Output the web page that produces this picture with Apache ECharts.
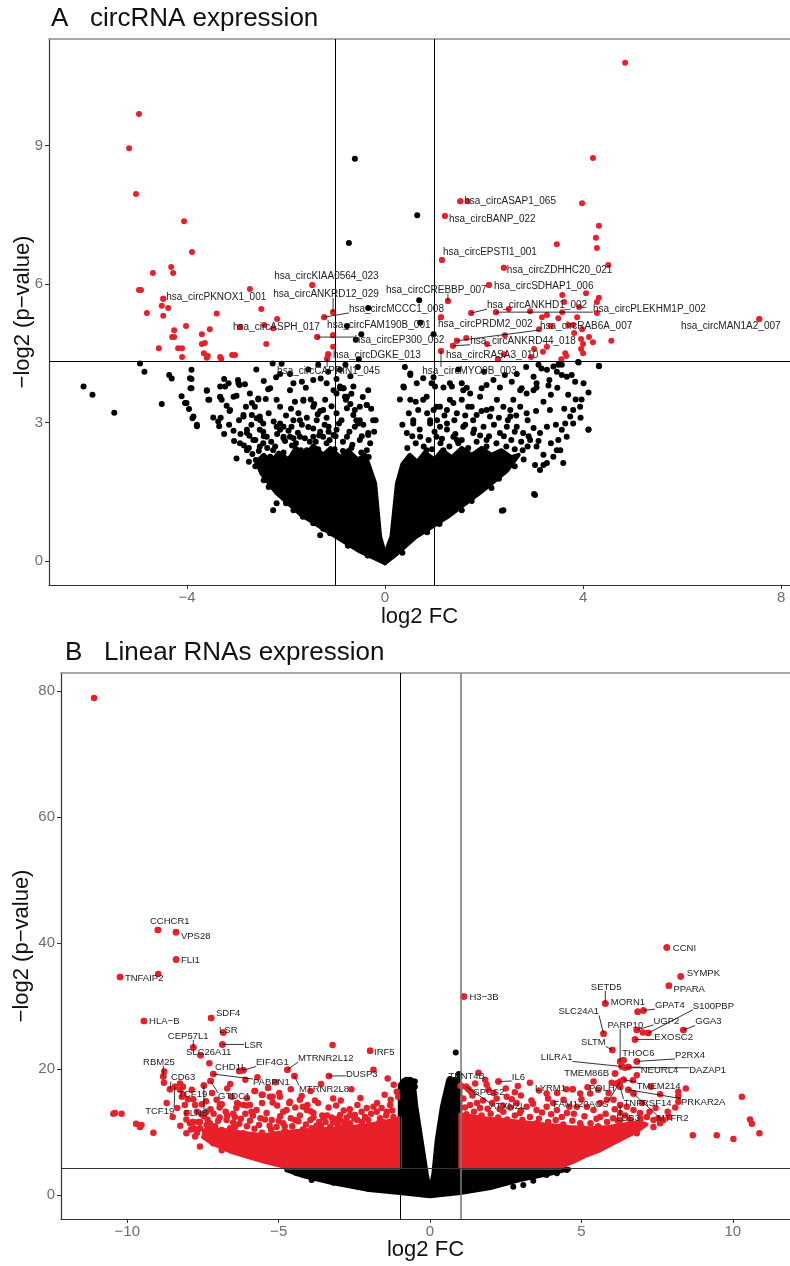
<!DOCTYPE html>
<html><head><meta charset="utf-8">
<script src="https://cdn.jsdelivr.net/npm/echarts/dist/echarts.min.js"></script>
<style>html,body{margin:0;padding:0;background:#fff}#c{width:790px;height:1266px}</style>
</head><body><div id="c"></div>
<script>
// ---------------- tick labels / thresholds ----------------
const xTicksA = [-4, 0, 4, 8];
const yTicksA = [0, 3, 6, 9];
const xTicksB = [-10, -5, 0, 5, 10];
const yTicksB = [0, 20, 40, 60, 80];
const fcCut = [-1, 1];
const pCut = 4.32;

// ---------------- Panel A: circRNA ----------------
const redA = [
[-4.97,9.68],[-5.17,8.94],[-5.03,7.95],[-4.06,7.36],[-3.90,6.69],[-4.32,6.37],[-4.28,6.24],[-4.69,6.24],[-4.97,5.87],[-4.93,5.87],
[-2.73,5.89],[-1.47,5.98],[-4.48,5.68],[-4.51,5.53],[-4.38,5.48],[-4.81,5.37],[-4.48,5.31],[-3.40,5.36],[-2.50,5.46],[-2.18,5.24],
[-1.23,5.28],[-1.05,5.39],[-4.02,5.09],[-4.26,5.00],[-4.30,4.85],[-4.26,4.85],[-3.54,5.02],[-3.70,4.91],[-2.44,5.11],[-2.26,5.04],
[-2.93,5.07],[-3.70,4.70],[-3.64,4.72],[-4.57,4.61],[-4.18,4.61],[-4.10,4.61],[-4.10,4.42],[-3.66,4.50],[-3.58,4.44],[-3.60,4.40],
[-3.33,4.42],[-3.31,4.38],[-3.09,4.46],[-3.03,4.46],[-2.40,4.70],[-1.37,4.85],[-1.05,4.89],[-1.05,4.64],[-1.15,4.48],[-1.17,4.38],
[4.85,10.79],[4.20,8.73],[1.52,7.79],[1.67,7.79],[3.98,7.75],[1.21,7.47],[4.32,7.26],[4.26,7.00],[4.28,6.78],[3.47,6.86],
[1.15,6.52],[2.40,6.35],[4.51,6.41],[2.10,5.98],[3.58,5.76],[4.06,5.80],[4.32,5.70],[4.28,5.61],[1.27,5.63],[3.62,5.61],
[1.74,5.37],[2.24,5.39],[2.50,5.46],[2.93,5.41],[3.58,5.39],[3.92,5.50],[4.28,5.37],[1.13,5.28],[3.17,5.28],[3.27,5.33],
[3.50,5.26],[3.88,5.28],[7.56,5.24],[3.11,5.02],[3.35,5.09],[3.70,5.11],[3.82,4.94],[3.98,5.02],[4.12,4.85],[4.20,4.74],
[4.57,4.77],[3.96,4.81],[4.00,4.70],[3.96,4.59],[4.00,4.50],[3.64,4.50],[3.56,4.37],[3.27,4.64],[3.01,4.59],[2.95,4.42],
[2.40,4.48],[2.42,4.89],[2.06,4.70],[1.64,4.83],[1.45,4.77],[1.37,4.66],[1.13,4.55],[2.28,4.37],[3.66,4.44],[3.19,4.53],[3.80,5.11]
];
const blackA = [
[-0.61,8.71],[-0.73,6.89],[0.65,7.49],[-0.34,5.48],[-0.77,5.09],[-0.48,4.91],[-0.59,4.79],[-0.53,4.37],[0.69,5.65],[0.71,5.16],[0.98,4.91],[3.90,4.31],[4.32,4.22],
[-4.95,4.28],[-4.86,4.10],[-6.09,3.78],[-5.91,3.60],[-5.47,3.21],[-4.51,3.40],[-4.36,4.03],[-4.31,3.95],[-3.91,3.94],[-3.93,3.74],
[-4.11,3.57],[-4.04,3.42],[-3.96,3.29],[-3.89,3.09],[-3.80,2.92],[-3.60,3.69],[-3.55,3.49],[-3.33,3.78],[-3.25,3.94],[-2.97,3.92],
[-2.83,3.83],[-3.16,3.85],[-2.94,3.81],[-3.00,3.58],[-3.33,3.55],[-3.30,3.49],[-3.20,3.36],[-3.14,3.25],[-3.47,3.11],[-3.37,3.02],
[-3.32,3.10],[-3.35,2.92],[-3.06,2.82],[-2.92,2.75],[-2.79,2.84],[-2.74,2.71],[-3.00,2.22],[-2.63,3.34],[-2.56,3.50],[-2.41,3.51],
[-2.36,3.72],[-2.20,3.98],[-2.12,4.05],[-2.09,4.27],[-2.27,4.28],[-1.92,4.05],[-1.68,3.88],[-1.65,3.47],[-1.45,3.92],[-1.43,3.40],
[-1.21,3.49],[-1.31,3.25],[-1.14,2.91],[-1.04,3.70],[-0.91,3.74],[-0.84,3.74],[-0.81,3.56],[-0.79,3.49],[-0.77,3.31],[-0.64,3.16],
[-0.61,2.91],[-0.54,2.98],[-0.51,3.34],[-0.37,3.38],[-0.34,3.70],[-0.19,3.05],[-0.34,2.73],[-0.98,3.94],[-0.91,4.14],[-2.26,1.10],
[-1.92,1.30],[-2.19,1.25],[-1.66,0.96],[-1.31,0.56],[-1.11,0.60],[-0.94,0.60],[-2.86,3.13],[-2.81,3.34],[-2.69,3.16],[-2.59,3.09],
[-2.46,2.80],[-2.39,2.69],[-2.53,2.48],[-2.61,2.19],[-2.93,2.55],[-2.79,2.40],[-2.66,2.62],[-2.19,2.91],[-2.05,2.91],[-1.85,3.05],
[-1.68,2.95],[-1.45,2.87],[-1.31,2.80],[-1.85,2.66],[-2.05,2.66],[-2.46,2.04],[-2.39,1.90],[-2.32,2.26],
[-3.91,4.14],[-3.94,3.96],[-3.91,3.74],[-4.01,3.42],[-3.87,3.13],[-3.80,2.95],[-3.60,3.70],[-3.57,3.49],[-3.33,3.56],[-3.23,3.78],
[-3.13,3.27],[-3.06,3.56],[-2.96,3.85],[-2.86,3.16],[-2.73,3.63],[-2.69,3.42],[-2.56,3.52],[-2.53,3.13],[-2.46,2.98],[-2.32,3.74],
[-2.19,3.49],[-2.12,3.34],[-1.92,3.70],[-1.82,3.45],[-1.72,3.05],[-1.65,3.49],[-1.45,3.34],[-1.38,3.05],[-1.25,3.27],[-1.18,3.85],
[-0.98,3.63],[-0.91,3.78],[-0.84,3.74],[-0.77,3.56],[-0.64,3.78],[-0.61,3.27],[-0.51,3.05],[-0.37,3.38],[-0.34,2.77],[-0.24,3.05],
[-1.14,2.80],[-0.98,2.84],[-1.89,2.91],[-2.12,2.84],[-2.53,2.84],[-2.79,2.77],[-2.12,2.98],[-2.05,2.69],
[-1.92,2.69],[-1.72,2.69],[-1.45,2.69],[-1.25,2.69],[-1.04,2.73],[-0.77,2.69],[-0.51,2.62],[-0.37,2.40],[-1.58,2.40],[-2.26,2.40],[-2.46,2.55],
[-2.62,2.62],[-2.45,2.70],[-2.30,2.58],[-2.18,2.75],[-2.02,2.60],[-1.95,2.82],[-1.80,2.55],[-1.76,2.78],[-1.62,2.66],[-1.55,2.90],
[-1.40,2.58],[-1.33,2.72],[-1.22,2.95],[-1.12,2.62],[-1.00,2.70],[-0.93,2.98],[-0.85,2.58],[-0.72,2.80],[-0.66,2.52],[-0.58,3.05],
[-0.47,2.70],[-0.44,2.95],[-2.70,2.95],[-2.52,3.05],[-2.35,3.20],[-2.25,3.02],[-2.00,3.15],[-1.90,3.30],[-1.75,3.20],[-1.58,3.10],
[-1.50,3.50],[-1.36,3.18],[-1.18,3.10],[-1.08,3.35],[-0.98,3.20],[-0.88,3.05],[-0.70,3.40],[-0.68,3.62],[-0.45,3.55],[-0.28,3.30],
[-0.22,2.80],[-0.30,2.55],[-2.85,2.50],[-3.05,2.60],[-3.15,2.95],[-3.25,2.75],[-2.95,3.05],[-1.60,3.75],[-1.30,3.95],[-1.15,4.10],
[-0.70,4.00],[-0.55,4.20],[-1.85,3.85],[-2.45,3.90],[-2.60,4.15],[-1.55,4.15],[-0.80,4.25],[-1.35,4.25],
[-0.35,0.12],[-0.75,0.33],[-0.90,0.50],[-1.25,0.70],[-1.45,0.82],[-1.60,0.97],[-1.85,1.10],[-2.00,1.25],[-2.35,1.60],[-2.45,1.75],[-2.62,2.05],[-2.75,2.15],
[-2.55,2.38],[-2.38,2.45],[-2.22,2.48],[-2.05,2.35],[-1.88,2.50],[-1.70,2.40],[-1.52,2.58],[-1.35,2.42],[-1.18,2.55],[-1.02,2.42],
[-0.85,2.38],[-0.68,2.45],[-0.48,2.35],[-0.33,2.25],[-2.68,2.32],[-2.75,2.45],
[0.51,4.03],[0.37,3.78],[0.64,3.85],[0.84,3.56],[0.98,3.27],[1.11,3.34],[1.25,3.27],[1.38,3.42],[0.91,2.98],[0.57,2.98],
[0.44,2.77],[0.71,2.69],[1.25,2.98],[1.04,2.69],[0.84,2.40],[1.18,2.40],[1.38,2.69],
[0.51,4.06],[0.38,3.76],[0.77,3.96],[0.98,3.98],[0.94,3.85],[1.18,3.76],[1.35,3.78],[1.55,3.85],[1.65,3.75],[1.72,3.63],
[1.95,3.74],[2.05,3.81],[2.19,3.92],[2.32,3.76],[2.42,4.03],[2.56,3.88],[2.66,4.05],[2.76,3.74],[3.00,3.99],[3.06,3.76],
[3.10,4.25],[3.16,4.17],[3.32,3.92],[3.47,4.10],[3.50,4.25],[3.57,4.03],[3.67,3.99],[3.84,3.88],[3.91,4.30],[4.11,3.65],
[3.97,3.50],[4.32,4.23],[4.11,2.85],[3.80,3.27],[3.74,3.13],[3.64,2.98],[3.57,2.84],[3.50,2.62],[3.47,2.40],[3.40,2.26],
[3.27,2.12],[3.20,2.08],[3.03,2.08],[3.60,2.12],[3.01,1.45],[2.36,1.09],[1.31,3.49],[1.45,3.20],[1.55,3.49],[1.75,3.34],
[1.85,3.16],[1.99,2.91],[2.12,3.13],[2.26,3.49],[2.39,3.34],[2.59,3.49],[2.73,3.34],[2.86,3.20],[2.32,2.77],[2.46,2.91],
[2.66,2.91],[2.79,2.77],[2.93,2.62],[3.06,2.48],[3.13,2.77],[3.27,2.91],[3.33,3.27],[2.86,3.63],[2.53,3.13],[1.78,2.77],
[2.05,2.62],[1.11,2.91],[0.91,3.05],[0.57,3.05],[0.67,3.27],[0.51,3.49],[0.77,3.49],[1.04,3.34],[1.58,2.91],[1.45,2.62],
[1.01,3.78],[1.31,3.85],[1.58,3.70],[1.68,3.34],[1.92,3.56],[2.05,3.27],[2.53,3.27],[2.73,3.70],[3.00,3.70],
[3.06,3.85],[3.27,4.14],[3.40,4.21],[3.57,4.25],[3.77,4.03],[4.01,3.85],[4.11,2.84],[3.94,3.34],
[3.80,2.98],[3.67,2.69],[3.54,2.40],[3.13,1.97],[3.03,1.43],[2.39,1.10],
[0.55,2.70],[0.70,2.85],[0.88,2.62],[1.00,2.80],[1.15,2.65],[1.25,2.85],[1.42,2.75],[1.55,2.62],[1.62,2.95],[1.80,2.85],
[1.92,2.72],[2.10,2.70],[2.20,2.95],[2.40,2.70],[2.55,2.62],[2.62,2.80],[2.75,2.58],[2.90,2.70],[3.00,2.88],[3.10,2.60],
[0.48,3.20],[0.62,3.45],[0.85,3.20],[1.05,3.05],[1.20,3.15],[1.40,3.05],[1.62,3.15],[1.78,3.05],[1.95,3.25],[2.15,3.30],
[2.30,3.10],[2.48,3.05],[2.65,3.15],[2.88,3.05],[3.05,3.25],[3.20,3.45],[3.35,3.60],[3.48,3.75],[0.40,4.20],[0.30,3.50],
[0.35,2.95],[1.48,4.15],[2.00,4.10],[2.85,4.20],[3.30,3.80],[3.70,3.60],[3.62,3.30],[3.85,3.50],[3.95,3.10],[3.45,2.95],
[3.35,2.55],[3.20,2.30],[0.35,0.18],[0.85,0.62],[1.10,0.80],[1.55,1.10],[1.75,1.30],[2.15,1.58],[2.30,1.78],[2.62,2.05],[2.80,2.20],
[0.45,2.45],[0.62,2.55],[0.78,2.48],[0.95,2.42],[1.12,2.55],[1.30,2.48],[1.48,2.55],[1.68,2.45],[1.85,2.58],[2.05,2.48],
[2.25,2.55],[2.45,2.48],[2.62,2.42],[2.78,2.40],[2.88,2.48]
];
const coreA = [
 [[0,-0.05],[-0.5,0.2],[-1.05,0.56],[-1.7,1.0],[-2.2,1.48],[-2.5,1.9],[-2.6,2.15],[-2.45,2.3],[-2.3,2.15],[-2.15,2.35],[-1.95,2.2],[-1.8,2.45],[-1.6,2.3],[-1.45,2.5],[-1.25,2.3],[-1.1,2.45],[-0.9,2.25],[-0.75,2.4],[-0.55,2.2],[-0.4,2.3],[-0.3,2.0],[-0.2,1.68],[-0.1,0.53],[0,0.15]],
 [[0,0.15],[0.13,0.53],[0.24,1.68],[0.35,2.1],[0.5,2.3],[0.65,2.15],[0.8,2.35],[1.0,2.2],[1.15,2.4],[1.35,2.25],[1.55,2.45],[1.75,2.3],[1.95,2.45],[2.15,2.3],[2.35,2.4],[2.55,2.25],[2.7,2.3],[2.46,1.95],[1.95,1.5],[1.3,0.98],[0.6,0.5],[0.2,0.12],[0,-0.05]]
];
const labelsA = [
['hsa_circKIAA0564_023',-1.47,5.98],['hsa_circANKRD12_029',-1.05,5.39],['hsa_circPKNOX1_001',-4.48,5.68],
['hsa_circMCCC1_008',-1.23,5.28],['hsa_circASPH_017',-2.93,5.07],['hsa_circFAM190B_001',-1.05,4.89],
['hsa_circEP300_062',-1.37,4.85],['hsa_circDGKE_013',-1.15,4.48],['hsa_circCAPRIN1_045',-1.17,4.38],
['hsa_circCREBBP_007',1.27,5.63],['hsa_circASAP1_065',1.52,7.79],['hsa_circBANP_022',1.21,7.47],
['hsa_circEPSTI1_001',1.15,6.52],['hsa_circZDHHC20_021',2.40,6.35],['hsa_circSDHAP1_006',2.10,5.98],
['hsa_circANKHD1_002',1.74,5.37],['hsa_circPLEKHM1P_002',2.24,5.39],['hsa_circPRDM2_002',1.13,5.28],
['hsa_circRAB6A_007',1.45,4.77],['hsa_circANKRD44_018',1.37,4.66],['hsa_circMAN1A2_007',7.56,5.24],
['hsa_circRASA3_010',2.28,4.37],['hsa_circMYO9B_003',1.13,4.55]
];
const labelPosA = [
[-2.24,6.17],[-2.26,5.78],[-4.42,5.72],[-0.73,5.46],[-3.07,5.07],[-1.17,5.11],[-0.61,4.79],[-1.05,4.46],[-2.18,4.12],
[0.02,5.87],[1.60,7.80],[1.29,7.41],[1.17,6.69],[2.46,6.30],[2.20,5.96],[2.06,5.54],[4.20,5.46],[1.07,5.13],
[3.13,5.09],[1.72,4.77],[5.98,5.09],[1.23,4.46],[0.75,4.12]
];

// ---------------- Panel B: linear RNAs ----------------
const redB = [
[-11.10,78.9],[-8.99,42.06],[-8.39,41.7],[-8.39,37.4],[-10.24,34.6],[-8.98,35.1],[-9.45,27.6],[-7.23,28.1],[-6.83,25.8],[-6.86,23.9],
[-7.82,23.4],[-7.58,22.2],[-7.29,20.9],[-7.16,19.2],[-7.25,18.1],[-6.30,19.7],[-6.17,19.8],[-4.71,19.9],[-4.48,18.9],[-3.34,18.9],
[-3.22,23.8],[-1.98,22.9],[-1.87,19.9],[-4.24,15.7],[-5.78,16.5],[-5.53,15.9],[-5.29,15.6],[-4.96,15.6],[-4.63,14.8],[-4.30,15.1],
[-6.94,14.4],[-6.33,14.4],[-6.17,14.3],[-5.95,14.3],[-6.88,7.1],[-6.50,12.9],[-7.47,12.5],[-7.38,11.1],[-7.82,11.6],[-7.76,14.3],
[-8.26,16.7],[-8.15,15.9],[-5.73,13.5],[-5.23,11.9],[-4.74,13.5],[-4.46,11.9],[-4.07,13.5],[-3.85,13.0],[-3.52,12.3],[-3.25,12.3],
[-2.97,12.7],[-2.75,12.3],[-2.48,12.7],[-2.26,13.2],[-2.09,13.8],[-1.87,14.0],[-1.60,13.8],[-1.32,14.3],[-1.10,16.4],[-1.05,15.6],
[-1.43,13.2],[-1.76,13.2],[-5.40,13.0],[-5.07,10.8],[-4.85,11.4],[-4.41,9.8],[-4.63,9.3],[-4.07,9.8],[-3.91,10.6],[-3.63,10.3],
[-3.08,10.1],[-2.86,10.8],[-2.64,11.4],[-2.31,10.8],[-2.04,11.9],[-1.65,12.2],[-1.21,12.4],[-6.72,11.9],[-6.44,10.8],[-6.17,9.8],
[-5.89,8.7],[-5.62,8.2],[-6.66,9.8],[-6.88,10.3],[-7.05,9.3],[-7.16,8.2],[-7.27,11.4],[-7.60,10.6],[-7.93,11.4],[-8.04,13.0],
[-7.76,9.3],[-7.60,7.7],[-7.43,10.1],[-8.10,14.3],[-10.41,13.0],[-10.46,12.9],[-10.19,12.9],[-9.71,11.3],[-9.53,11.1],[-9.58,10.8],
[-9.14,9.9],[-8.81,18.8],[-8.78,19.6],[-8.79,17.8],[-8.59,16.8],[-8.70,14.6],[-8.43,17.2],[-8.26,17.7],[-8.17,17.2],[-8.20,15.6],
[-7.87,16.7],[-7.82,15.2],[-7.84,11.6],[-7.71,10.3],[-7.65,11.6],[-7.54,14.4],[-7.47,17.4],[-7.38,13.2],[-7.25,13.6],[-6.88,14.4],
[-6.37,14.6],[-6.06,14.2],[-5.80,16.5],[-5.56,15.9],[-5.20,15.6],[-4.98,16.2],[-4.65,14.6],[-3.94,13.3],[-3.66,11.6],[-3.56,12.6],
[-3.08,12.1],[-2.64,12.7],
[-1.35,11.0],[-1.55,11.6],[-1.85,10.9],[-2.15,12.4],[-2.40,11.9],[-2.55,10.4],[-2.80,11.5],[-3.05,11.2],[-3.30,10.8],[-3.45,11.6],
[-3.75,11.0],[-3.95,11.9],[-4.20,10.4],[-4.30,12.6],[-4.55,10.9],[-4.80,10.2],[-4.95,12.5],[-5.15,9.6],[-5.30,11.0],[-5.55,9.9],
[-5.60,12.2],[-5.80,10.5],[-5.95,11.8],[-6.10,12.9],[-6.30,11.3],[-6.45,12.4],[-6.60,10.6],[-6.75,13.2],[-7.00,11.8],[-7.15,12.9],
[-7.30,10.6],[-7.55,12.8],[-7.70,9.9],[-7.90,10.4],[-8.05,12.0],[-1.25,13.4],[-1.95,12.9],[-2.65,13.6],[-3.35,13.9],[-3.70,14.6],
[-4.05,14.3],[-4.45,13.9],[-5.05,14.2],[-5.55,14.6],[-6.05,15.4],[-6.55,15.6],[-7.05,15.1],[-7.20,16.2],[-6.70,16.9],[-5.35,17.0],
[-4.60,16.8],[-3.95,16.5],[-2.95,15.0],[-2.30,15.4],[-1.50,15.9],[-1.20,17.5],[-1.40,18.5],[-2.60,16.8],[-3.60,17.6],[-5.10,17.9],
[-6.10,18.3],[-6.60,17.6],[-5.70,18.7],[-3.10,14.2],
[-1.15,10.8],[-1.45,12.6],[-1.70,11.4],[-2.00,10.6],[-2.25,11.6],[-2.50,12.2],[-2.75,10.9],[-2.95,11.8],[-3.20,11.5],[-3.40,12.6],
[-3.60,10.9],[-3.85,12.3],[-4.10,11.2],[-4.35,11.7],[-4.60,12.2],[-4.80,10.9],[-5.00,11.8],[-5.25,10.4],[-5.45,12.0],[-5.65,11.1],
[-5.85,12.6],[-6.05,10.9],[-6.25,12.1],[-6.50,11.5],[-6.70,12.6],[-6.95,12.3],[-7.10,10.9],[-7.35,12.0],[-7.60,11.6],[-7.80,10.6],
[-1.30,15.1],[-1.75,14.6],[-2.40,14.3],[-2.85,13.4],[-3.20,15.3],[-3.80,15.0],[-4.20,14.0],[-4.85,13.2],[-5.20,14.7],[-5.90,13.2],
[-6.40,13.8],[-6.95,13.9],[-7.40,14.9],[-7.70,13.2],[-8.00,15.2],[-8.35,13.8],[-8.50,12.4],[-8.25,11.0],[-8.05,9.8],
[7.82,39.3],[8.28,34.7],[7.89,33.2],[1.12,31.5],[5.79,30.4],[6.86,29.1],[7.05,29.3],[6.83,26.2],[7.03,25.8],[7.21,25.7],
[6.77,24.7],[8.37,26.2],[5.73,25.6],[6.02,23.0],[6.28,21.2],[6.39,21.4],[6.33,20.4],[6.55,20.3],[6.83,21.2],[6.83,19.0],
[6.11,19.3],[6.39,18.3],[6.17,17.7],[6.28,17.2],[6.55,16.7],[6.72,16.1],[6.06,15.1],[6.28,14.3],[6.50,14.0],[6.28,11.9],
[7.16,12.4],[7.38,11.9],[7.54,12.2],[7.71,11.9],[8.20,14.8],[8.20,16.4],[8.45,16.9],[8.20,15.7],[10.30,15.6],[10.57,12.0],
[10.63,11.3],[10.88,9.8],[8.68,9.5],[9.47,9.5],[10.02,8.9],[4.71,16.8],[2.26,18.0],[1.01,17.35],[1.19,17.2],[1.27,16.8],
[1.87,17.5],[1.49,17.7],[1.82,18.3],[1.93,16.7],[2.20,15.3],[2.53,15.6],[2.86,14.6],[3.19,14.0],[3.52,13.5],[3.85,14.0],
[4.07,14.6],[4.19,13.5],[4.52,13.0],[4.85,14.0],[5.18,14.0],[5.40,13.5],[5.62,14.6],[5.84,15.1],[5.29,16.1],[5.40,18.0],
[4.96,16.1],[4.41,15.1],[3.85,16.1],[2.97,13.0],[2.42,13.2],[1.65,13.8],[1.32,14.3],[1.87,11.9],[3.52,11.4],[4.96,11.4],
[5.62,12.4],[6.28,13.0],[6.72,13.5],[6.94,13.0],[6.39,10.8],[7.38,10.8],[7.60,11.4],[6.83,9.8],
[1.20,12.8],[1.45,13.2],[1.70,12.6],[2.00,12.9],[2.25,12.3],[2.55,12.0],[2.80,12.6],[3.05,11.9],[3.30,12.4],[3.60,12.1],
[3.90,11.6],[4.15,11.9],[4.40,11.2],[4.70,11.8],[5.00,10.8],[5.30,11.4],[5.55,10.9],[5.85,11.6],[6.05,12.2],[6.60,12.0],
[6.95,12.1],[7.25,13.2],[1.10,15.3],[1.40,15.8],[1.75,15.0],[2.05,14.6],[2.40,14.2],[2.70,15.2],[3.00,15.8],[3.35,15.0],
[3.60,16.6],[4.20,16.2],[4.60,14.0],[5.00,15.2],[5.55,16.7],[5.90,16.2],[6.10,13.6],[7.00,14.6],[7.45,13.8],[7.85,13.2],
[7.90,12.4],[8.10,13.9],[2.90,17.3],[3.30,17.8],[1.60,19.4],[2.50,16.9],[6.70,18.2],[7.30,17.2],[7.60,16.0],
[1.15,13.9],[1.55,14.6],[1.90,13.7],[2.30,13.6],[2.65,13.9],[3.00,13.4],[3.40,14.5],[3.70,13.1],[4.00,12.8],[4.35,12.4],
[4.75,12.9],[5.10,12.5],[5.50,12.1],[5.80,12.9],[6.20,11.8],[6.45,12.6],[1.35,16.4],[2.10,16.2],[2.80,16.3],[3.90,15.3],
[4.50,16.8],[5.20,17.1],[6.00,17.8]
];
const blackB = [
[0.85,22.6],[0.66,18.4],[0.72,16.4],[-0.88,18.0],[-0.66,18.3],[-0.50,17.2],[-0.77,18.3],[-0.50,18.0],[0.95,19.2],[-0.95,16.5],
[-4.41,3.44],[-3.91,2.38],[-3.58,2.65],[-3.19,1.96],[2.75,1.32],[3.08,1.59],[3.41,2.28],[3.85,3.17],[4.19,3.44],[4.52,3.97]
];
const coreRedB = [
 [[-1,4.32],[-1,12.2],[-1.5,11.6],[-2.2,11.0],[-3.0,10.6],[-4.0,10.3],[-4.8,10.0],[-5.5,9.5],[-6.2,9.9],[-6.9,10.4],[-7.4,10.2],[-7.5,9.2],[-7.2,8.2],[-6.6,6.9],[-6.06,6.1],[-5.5,5.3],[-4.9,4.6],[-4.75,4.32]],
 [[1,4.32],[1,12.8],[1.8,12.2],[2.8,11.7],[3.8,11.2],[4.6,10.8],[5.3,10.6],[5.9,10.8],[6.4,11.2],[6.9,11.6],[7.15,11.2],[6.83,10.1],[6.5,9.3],[6.06,8.2],[5.62,7.1],[5.18,6.3],[4.74,5.3],[4.4,4.6],[4.3,4.32]]
];
const coreBlackB = [
 [[-4.75,4.32],[-1,4.32],[-1,17.5],[-0.85,18.3],[-0.55,18.2],[-0.45,14],[-0.28,8.7],[-0.11,3.4],[0,0.6],[0.11,3.4],[0.22,8.7],[0.39,14],[0.6,18.3],[0.95,18.5],[1,17],[1,4.32],[4.35,4.32],[4.6,4.1],[4.0,3.4],[3.0,2.4],[2.0,1.1],[1.0,0.3],[0,-0.2],[-1.0,0.3],[-2.1,0.85],[-3.2,1.85],[-4.2,3.0],[-4.75,3.95]]
];
const labelsB = [
['CCHCR1',-8.99,42.06],['VPS28',-8.39,41.7],['FLI1',-8.39,37.4],['TNFAIP2',-10.24,34.6],['HLA\u2212B',-9.45,27.6],
['SDF4',-7.23,28.1],['LSR',-6.83,25.8],['LSR',-6.86,23.9],['CEP57L1',-7.82,23.4],['SLC26A11',-7.58,22.2],
['CHD1L',-6.30,19.7],['EIF4G1',-6.17,19.8],['PABPN1',-7.16,19.2],['GTDC1',-7.25,18.1],['MTRNR2L12',-4.71,19.9],
['MTRNR2L8',-4.48,18.9],['DUSP3',-3.34,18.9],['IRF5',-1.98,22.9],['RBM25',-8.81,18.8],['CD63',-8.59,16.8],
['TCF19',-8.17,17.2],['TCF19',-8.43,17.2],['FLNB',-7.47,17.4],
['CCNI',7.82,39.3],['SYMPK',8.28,34.7],['PPARA',7.89,33.2],['H3\u22123B',1.12,31.5],['SETD5',5.79,30.4],
['MORN1',6.86,29.1],['GPAT4',7.05,29.3],['SLC24A1',5.73,25.6],['SLTM',6.02,23.0],['PARP10',6.28,21.2],
['UGP2',6.83,26.2],['S100PBP',7.21,25.7],['GGA3',8.37,26.2],['EXOSC2',6.77,24.7],['THOC6',6.39,21.4],
['P2RX4',6.83,21.2],['LILRA1',6.33,20.4],['NEURL4',6.55,20.3],['DAZAP1',6.44,20.2],['TMEM86B',6.11,19.3],
['TMEM214',6.39,18.3],['POLH',6.17,17.7],['PRKAR2A',6.55,16.7],['TNFRSF14',6.28,17.2],['FAM120AOS',6.28,18.0],
['LDB3',6.28,14.3],['MTFR2',6.72,16.1],['LYRM1',4.71,16.8],['IL6',2.26,18.0],['TENT4B',1.01,17.35],
['SPCS2',1.27,16.8],['ATXN2L',1.19,17.2]
];
const labelPosB = [
[-9.25,43.5],[-8.23,41.0],[-8.23,37.3],[-10.08,34.4],[-9.28,27.6],
[-7.07,28.9],[-6.97,26.2],[-6.14,23.7],[-8.66,25.2],[-8.06,22.7],
[-7.10,20.3],[-5.75,21.0],[-5.85,17.8],[-7.00,15.6],[-4.36,21.7],
[-4.33,16.8],[-2.78,19.2],[-1.85,22.7],[-9.48,21.1],[-8.56,18.6],
[-8.32,15.9],[-9.41,13.3],[-8.13,13.0],
[8.02,39.2],[8.48,35.2],[8.04,32.6],[1.30,31.4],[5.31,33.0],
[5.97,30.5],[7.43,30.1],[4.24,29.1],[4.99,24.2],[5.86,27.0],
[7.38,27.6],[8.68,30.0],[8.76,27.5],[7.41,25.0],[6.35,22.5],
[8.09,22.2],[3.66,21.8],[6.96,19.8],[8.56,19.8],[4.43,19.3],
[6.83,17.3],[5.25,17.0],[8.29,14.7],[6.39,14.6],[4.07,14.4],
[6.15,12.1],[7.49,12.1],[3.47,16.9],[2.70,18.7],[0.61,18.8],
[1.43,16.3],[1.98,14.0]
];

// ---------------- chart ----------------
const FONT = '"Liberation Sans", Arial, Helvetica, sans-serif';
const RED = '#E8202A';
const measureCtx = document.createElement('canvas').getContext('2d');
const fmt = v => v < 0 ? '\u2212' + (-v) : String(v);

function polySeries(polys, color, xi, yi, z) {
  return {type:'custom', xAxisIndex:xi, yAxisIndex:yi, z:z, silent:true, animation:false,
    data: polys.map(p => p[0]),
    renderItem: (params, api) => ({type:'polygon',
      shape:{points: polys[params.dataIndex].map(q => api.coord(q))},
      style:{fill:color, stroke:color, lineWidth:4, lineJoin:'round'}})};
}
function labelSeries(labels, pos, xi, yi, fs) {
  return {type:'custom', xAxisIndex:xi, yAxisIndex:yi, z:20, silent:true, animation:false,
    data: labels.map(l => [l[1], l[2]]),
    renderItem: (params, api) => {
      const l = labels[params.dataIndex], p = pos[params.dataIndex];
      const pt = api.coord([l[1], l[2]]), tp = api.coord(p);
      const font = fs + 'px ' + FONT;
      measureCtx.font = font;
      const w = measureCtx.measureText(l[0]).width, h = fs * 0.8;
      const ax = Math.min(Math.max(pt[0], tp[0]), tp[0] + w);
      const ay = Math.min(Math.max(pt[1], tp[1] - h / 2), tp[1] + h / 2);
      const ch = [];
      if (Math.hypot(ax - pt[0], ay - pt[1]) > 7)
        ch.push({type:'line', shape:{x1:pt[0], y1:pt[1], x2:ax, y2:ay}, style:{stroke:'#000', lineWidth:0.8}});
      ch.push({type:'text', style:{text:l[0], x:tp[0], y:tp[1], fill:'#222', font:font, align:'left', verticalAlign:'middle'}});
      return {type:'group', children:ch};
    }};
}
function refLines(xi, yi, colors) {
  return {type:'scatter', xAxisIndex:xi, yAxisIndex:yi, data:[], z:15, silent:true, animation:false,
    markLine:{silent:true, symbol:['none','none'], animation:false, label:{show:false},
      data:[
        {xAxis:fcCut[0], lineStyle:{color:colors[0], width:1, type:'solid'}},
        {xAxis:fcCut[1], lineStyle:{color:colors[1], width:colors[1]==='#000'?1:1.6, type:'solid'}},
        {yAxis:pCut, lineStyle:{color:colors[2], width:1, type:'solid'}}
      ]}};
}
function xAxisMain(gi, min, max, ticks, gap) {
  return {gridIndex:gi, type:'value', min:min, max:max, position:'bottom',
    axisLine:{onZero:false, lineStyle:{color:'#333', width:1.2}},
    axisTick:{show:true, customValues:ticks, length:4, lineStyle:{color:'#333'}},
    axisLabel:{customValues:ticks, formatter:fmt, color:'#6e6e6e', fontSize:15, margin:5, fontFamily:FONT},
    splitLine:{show:false},
    name:'log2 FC', nameLocation:'middle', nameGap:gap, nameMoveOverlap:false,
    nameTextStyle:{fontSize:22, color:'#111', fontFamily:FONT}};
}
function xAxisTop(gi, min, max) {
  return {gridIndex:gi, type:'value', min:min, max:max, position:'top',
    axisLine:{onZero:false, lineStyle:{color:'#8c8c8c', width:1.6}},
    axisTick:{show:false}, axisLabel:{show:false}, splitLine:{show:false}};
}
function yAxisMain(gi, min, max, ticks, gap) {
  return {gridIndex:gi, type:'value', min:min, max:max,
    axisLine:{show:true, onZero:false, lineStyle:{color:'#333', width:1.2}},
    axisTick:{show:true, customValues:ticks, length:4, lineStyle:{color:'#333'}},
    axisLabel:{customValues:ticks, formatter:fmt, color:'#6e6e6e', fontSize:15, margin:6, fontFamily:FONT},
    splitLine:{show:false},
    name:'\u2212log2 (p\u2212value)', nameLocation:'middle', nameGap:gap, nameMoveOverlap:false,
    nameTextStyle:{fontSize:22, color:'#111', fontFamily:FONT}};
}

const chart = echarts.init(document.getElementById('c'), null, {renderer:'canvas'});
chart.setOption({
  animation:false,
  backgroundColor:'#fff',
  textStyle:{fontFamily:FONT},
  title:[
    {text:'A   circRNA expression', left:46, top:1, textStyle:{fontSize:26, fontWeight:'normal', color:'#111', fontFamily:FONT}},
    {text:'B   Linear RNAs expression', left:60, top:635, textStyle:{fontSize:26, fontWeight:'normal', color:'#111', fontFamily:FONT}}
  ],
  grid:[
    {left:49, top:39, width:741, height:546, containLabel:false, outerBoundsMode:'none'},
    {left:61, top:673, width:729, height:546, containLabel:false, outerBoundsMode:'none'}
  ],
  xAxis:[
    xAxisMain(0, -6.788, 8.18, xTicksA, 21),
    xAxisTop(0, -6.788, 8.18),
    xAxisMain(1, -12.19, 11.89, xTicksB, 20),
    xAxisTop(1, -12.19, 11.89)
  ],
  yAxis:[
    yAxisMain(0, -0.52, 11.306, yTicksA, 15),
    yAxisMain(1, -3.81, 82.86, yTicksB, 28)
  ],
  series:[
    polySeries(coreA, '#000', 0, 0, 1),
    {type:'scatter', xAxisIndex:0, yAxisIndex:0, data:blackA, symbolSize:6, itemStyle:{color:'#000', opacity:1}, z:2, silent:true, animation:false},
    {type:'scatter', xAxisIndex:0, yAxisIndex:0, data:redA.concat(labelsA.map(l => [l[1], l[2]])), symbolSize:6, itemStyle:{color:RED, opacity:1}, z:3, silent:true, animation:false},
    refLines(0, 0, ['#000','#000','#000']),
    labelSeries(labelsA, labelPosA, 0, 0, 10),

    polySeries(coreBlackB, '#000', 2, 1, 1),
    polySeries(coreRedB, RED, 2, 1, 2),
    {type:'scatter', xAxisIndex:2, yAxisIndex:1, data:blackB, symbolSize:6, itemStyle:{color:'#000', opacity:1}, z:3, silent:true, animation:false},
    {type:'scatter', xAxisIndex:2, yAxisIndex:1, data:redB.concat(labelsB.map(l => [l[1], l[2]])), symbolSize:6.5, itemStyle:{color:RED, opacity:1}, z:4, silent:true, animation:false},
    refLines(2, 1, ['#000','#7a7a7a','#333']),
    labelSeries(labelsB, labelPosB, 2, 1, 9.5)
  ]
});
</script>
</body></html>
